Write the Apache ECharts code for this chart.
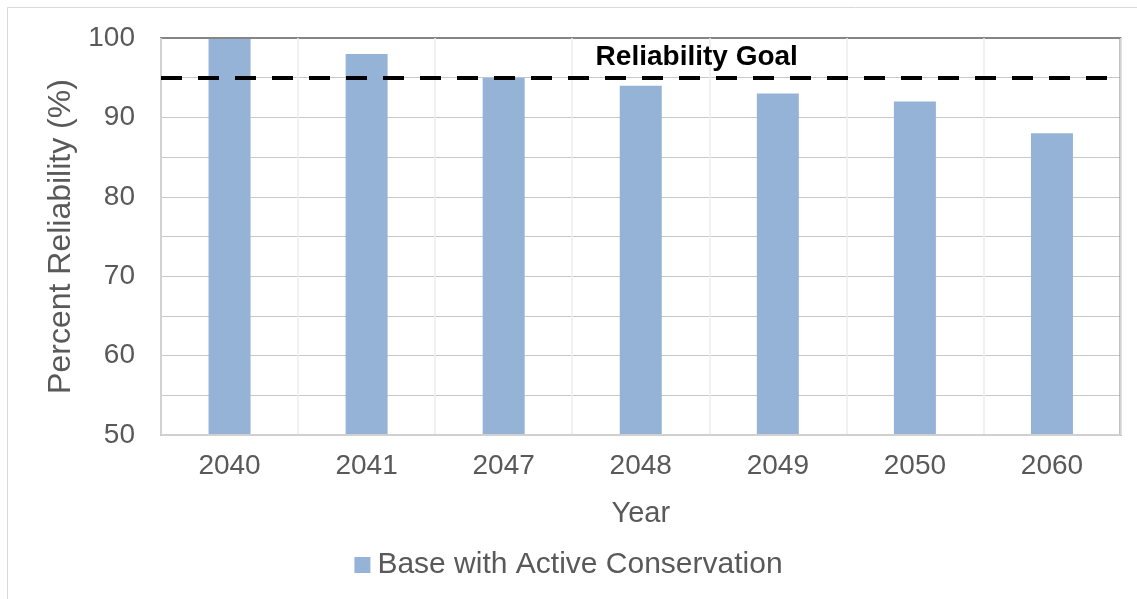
<!DOCTYPE html>
<html>
<head>
<meta charset="utf-8">
<script src="https://cdn.jsdelivr.net/npm/echarts@6/dist/echarts.min.js"></script>
<style>
  html, body { margin: 0; padding: 0; background: #ffffff; }
  #chart { width: 1137px; height: 599px; }
</style>
</head>
<body>
<div id="chart"></div>
<script>
// Planning years on the category axis
const years = ['2040', '2041', '2047', '2048', '2049', '2050', '2060'];
// Percent reliability for the "Base with Active Conservation" scenario
const reliability = [100, 98, 95, 94, 93, 92, 88];
// Reliability target drawn as a dashed reference line
const reliabilityGoal = 95;
// Labelled y-axis ticks (grid lines are drawn every 5%)
const yTickLabels = [50, 60, 70, 80, 90, 100];

const FONT = '"Liberation Sans", Arial, Helvetica, sans-serif';
const TEXT = '#595959';

const chart = echarts.init(document.getElementById('chart'), null, { renderer: 'canvas' });

chart.setOption({
  animation: false,
  backgroundColor: '#ffffff',
  textStyle: { fontFamily: FONT },
  graphic: [{
    type: 'rect',
    silent: true,
    shape: { x: 7.5, y: 7.5, width: 1200, height: 700 },
    style: { fill: 'none', stroke: '#d9d9d9', lineWidth: 1 }
  }],
  grid: {
    left: 161, right: 16.5, top: 38, bottom: 164,
    show: true, borderColor: '#858585', borderWidth: 2,
    backgroundColor: 'transparent',
    z: 3
  },
  legend: {
    show: true,
    left: 'center', top: 545,
    icon: 'rect', itemWidth: 16, itemHeight: 16,
    textStyle: { color: TEXT, fontSize: 30, fontFamily: FONT, padding: [0, 0, 0, 2] },
    data: ['Base with Active Conservation']
  },
  xAxis: {
    type: 'category',
    data: years,
    boundaryGap: true,
    name: 'Year',
    nameLocation: 'middle',
    nameGap: 64,
    nameTextStyle: { color: TEXT, fontSize: 29, fontFamily: FONT },
    axisLine: { show: true, lineStyle: { color: '#d0d0d0', width: 2 } },
    axisTick: { show: false },
    axisLabel: { color: TEXT, fontSize: 28, margin: 17, fontFamily: FONT },
    splitLine: { show: true, lineStyle: { color: '#ececec', width: 1.5 } },
    z: 4
  },
  yAxis: {
    type: 'value',
    min: 50, max: 100, interval: 5,
    name: 'Percent Reliability (%)',
    nameLocation: 'middle',
    nameGap: 82,
    nameTextStyle: { color: TEXT, fontSize: 32, fontFamily: FONT },
    axisLine: { show: false },
    axisTick: { show: false },
    axisLabel: {
      color: TEXT, fontSize: 28, margin: 26, fontFamily: FONT,
      formatter: v => (yTickLabels.includes(v) ? String(v) : '')
    },
    splitLine: { show: true, lineStyle: { color: '#c8c8c8', width: 1.2 } }
  },
  series: [{
    name: 'Base with Active Conservation',
    type: 'bar',
    data: reliability,
    barWidth: 42,
    itemStyle: { color: '#95b3d7' },
    z: 2,
    markLine: {
      silent: true,
      symbol: 'none',
      z: 5,
      lineStyle: { color: '#000000', width: 4, type: [21, 16] },
      label: {
        show: true,
        position: 'insideMiddleTop',
        formatter: 'Reliability Goal',
        color: '#000000',
        fontWeight: 'bold',
        fontSize: 28,
        fontFamily: FONT,
        distance: 6,
        offset: [56, 0]
      },
      data: [{ yAxis: reliabilityGoal }]
    }
  }]
});
</script>
</body>
</html>
